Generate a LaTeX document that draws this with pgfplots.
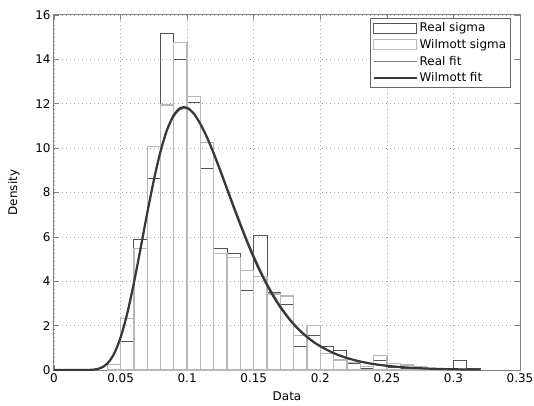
\documentclass[border=0pt]{standalone}
\usepackage{pgfplots}
\pgfplotsset{compat=1.18}
\usepackage{fontspec}
\setmainfont{DejaVu Sans}
\definecolor{realc}{gray}{0.33}
\definecolor{wilc}{gray}{0.72}
\definecolor{framec}{gray}{0.50}
\definecolor{realfit}{gray}{0.50}
\definecolor{wilfit}{gray}{0.22}
\pgfplotsset{
  histlegend/.style={legend image code/.code={\draw[##1,/tikz/.cd,fill=none] (0bp,-5bp) rectangle (43bp,5bp);}},
  linelegend/.style={legend image code/.code={\draw[##1] (0bp,0bp) -- (43bp,0bp);}},
}
\begin{document}
\begin{tikzpicture}
\begin{axis}[
  scale only axis, width=466bp, height=355bp,
  xmin=0, xmax=0.35, ymin=0, ymax=16,
  xtick={0,0.05,0.1,0.15,0.2,0.25,0.3,0.35},
  xticklabels={0,0.05,0.1,0.15,0.2,0.25,0.3,0.35},
  ytick={0,2,4,6,8,10,12,14,16},
  yticklabels={0,2,4,6,8,10,12,14,16},
  xticklabel style={inner xsep=0bp},
  tick align=inside, major tick length=5bp,
  tick style={framec, line width=0.6bp},
  axis line style={framec, line width=1bp},
  grid=major, grid style={dash pattern=on 1bp off 3bp, gray!70, line width=0.7bp},
  font=\fontsize{12}{14}\selectfont,
  xlabel={Data}, ylabel={Density},
  xlabel style={at={(axis description cs:0.5,-0.073)}, anchor=center},
  ylabel style={at={(axis description cs:-0.086,0.5)}, anchor=center},
  legend style={at={(1,1)}, anchor=north east, xshift=-9bp, yshift=-3bp,
    draw=black!60, line width=0.8bp, fill=white, font=\fontsize{12}{14}\selectfont,
    inner sep=2.5bp, row sep=2bp},
  legend cell align=left,
]
% Real sigma histogram (dark outline), left edges and density
\addplot[ybar interval, draw=realc, fill=none, line width=1bp, histlegend]
  coordinates {
  (0.04,0) (0.05,1.28) (0.06,5.9) (0.07,8.63) (0.08,15.16) (0.09,14.0)
  (0.10,12.06) (0.11,9.08) (0.12,5.47) (0.13,5.25) (0.14,3.57) (0.15,6.05)
  (0.16,3.48) (0.17,2.96) (0.18,1.08) (0.19,1.55) (0.20,1.05) (0.21,0.9)
  (0.22,0.3) (0.23,0.05) (0.24,0.45) (0.25,0.1) (0.26,0.05) (0.27,0.05)
  (0.28,0) (0.29,0) (0.30,0.45) (0.31,0.05) (0.32,0)};
\addlegendentry{Real sigma}
% Wilmott sigma histogram (light outline)
\addplot[ybar interval, draw=wilc, fill=none, line width=1.3bp, histlegend]
  coordinates {
  (0.04,0.26) (0.05,2.33) (0.06,5.48) (0.07,10.06) (0.08,11.94) (0.09,14.75)
  (0.10,12.34) (0.11,10.24) (0.12,5.25) (0.13,5.08) (0.14,4.5) (0.15,4.2)
  (0.16,3.42) (0.17,3.33) (0.18,1.55) (0.19,2.0) (0.20,0.75) (0.21,0.45)
  (0.22,0.33) (0.23,0.15) (0.24,0.65) (0.25,0.28) (0.26,0.22) (0.27,0.15)
  (0.28,0.05) (0.29,0.03) (0.30,0) (0.31,0) (0.32,0)};
\addlegendentry{Wilmott sigma}
% Real fit
\addplot[realfit, line width=1.4bp, smooth, linelegend]
  coordinates {
  (0.0,0) (0.02,0) (0.025,0.002) (0.03,0.02) (0.035,0.09) (0.04,0.29) (0.045,0.72)
  (0.05,1.47) (0.055,2.56) (0.06,3.94) (0.065,5.49) (0.07,7.07) (0.075,8.55)
  (0.08,9.82) (0.085,10.80) (0.09,11.43) (0.095,11.75) (0.10,11.77)
  (0.105,11.54) (0.11,11.10) (0.115,10.50) (0.12,9.80) (0.125,9.02)
  (0.13,8.22) (0.135,7.42) (0.14,6.64) (0.145,5.88) (0.15,5.17)
  (0.155,4.52) (0.16,3.92) (0.165,3.38) (0.17,2.90) (0.175,2.48)
  (0.18,2.11) (0.185,1.79) (0.19,1.52) (0.195,1.28) (0.20,1.08)
  (0.21,0.76) (0.22,0.54) (0.23,0.38) (0.24,0.27) (0.25,0.19)
  (0.26,0.13) (0.27,0.094) (0.28,0.066) (0.29,0.046) (0.30,0.033)
  (0.31,0.023) (0.32,0.016)};
\addlegendentry{Real fit}
% Wilmott fit
\addplot[wilfit, line width=2.2bp, smooth, linelegend]
  coordinates {
  (0.0,0) (0.02,0) (0.025,0.002) (0.03,0.018) (0.035,0.087) (0.04,0.287) (0.045,0.718)
  (0.05,1.463) (0.055,2.544) (0.06,3.916) (0.065,5.469) (0.07,7.065) (0.075,8.564)
  (0.08,9.85) (0.085,10.84) (0.09,11.49) (0.095,11.81) (0.10,11.82)
  (0.105,11.56) (0.11,11.08) (0.115,10.47) (0.12,9.75) (0.125,8.96)
  (0.13,8.15) (0.135,7.33) (0.14,6.54) (0.145,5.78) (0.15,5.07)
  (0.155,4.42) (0.16,3.83) (0.165,3.30) (0.17,2.83) (0.175,2.42)
  (0.18,2.06) (0.185,1.75) (0.19,1.49) (0.195,1.26) (0.20,1.07)
  (0.21,0.761) (0.22,0.540) (0.23,0.382) (0.24,0.269) (0.25,0.19)
  (0.26,0.133) (0.27,0.094) (0.28,0.066) (0.29,0.046) (0.30,0.033)
  (0.31,0.023) (0.32,0.016)};
\addlegendentry{Wilmott fit}
\end{axis}
\path (current axis.south west) +(-54bp,-36bp) (current axis.north east) +(14bp,15bp);
\end{tikzpicture}
\end{document}
